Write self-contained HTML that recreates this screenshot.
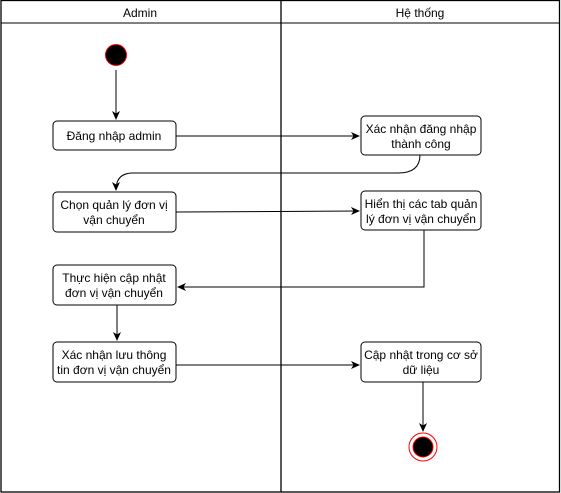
<!DOCTYPE html><html><head><style>body{margin:0;background:#fff}svg{display:block}text{font-family:"Liberation Sans",sans-serif;font-size:12px;fill:#000}</style></head><body>
<svg width="561" height="493" xmlns="http://www.w3.org/2000/svg">
<defs><marker id="a" markerWidth="10" markerHeight="10" refX="8" refY="5" orient="auto" markerUnits="userSpaceOnUse"><path d="M0,1 L9,5 L0,9 L2.5,5 Z" fill="#000"/></marker></defs>
<rect x="1" y="0.5" width="558.5" height="491.5" fill="#fff" stroke="#000" stroke-width="1.3"/>
<line x1="1" y1="23" x2="560" y2="23" stroke="#000"/>
<line x1="281" y1="0" x2="281" y2="492" stroke="#000" stroke-width="1.3"/>
<text x="140" y="17" text-anchor="middle">Admin</text>
<text x="420" y="17" text-anchor="middle">Hệ thống</text>
<circle cx="116" cy="55" r="10.5" fill="#000" stroke="#f00"/>
<g fill="#fff" stroke="#000">
<rect x="53" y="121" width="123" height="29" rx="4"/>
<rect x="53" y="192" width="123" height="40" rx="4"/>
<rect x="53" y="265" width="123" height="40" rx="4"/>
<rect x="53" y="342" width="123" height="40" rx="4"/>
<rect x="361" y="116" width="120" height="39" rx="4"/>
<rect x="361" y="191" width="120" height="39" rx="4"/>
<rect x="361" y="342" width="120" height="40" rx="4"/>
</g>
<g fill="none" stroke="#000" marker-end="url(#a)">
<line x1="116" y1="70" x2="116" y2="119"/>
<line x1="176" y1="136" x2="359" y2="136"/>
<path d="M420,155 Q420,173 398,173 L133,173 Q116,173 116,190"/>
<line x1="176" y1="212" x2="359" y2="211"/>
<polyline points="424,230 424,287 178,287"/>
<line x1="117" y1="305" x2="117" y2="340"/>
<line x1="176" y1="365" x2="359" y2="365"/>
<line x1="423" y1="382" x2="423" y2="431"/>
</g>
<circle cx="423" cy="447" r="14" fill="#fff" stroke="#f00"/>
<circle cx="423" cy="447" r="10" fill="#000" stroke="#f00"/>
<g text-anchor="middle">
<text x="114" y="140">Đăng nhập admin</text>
<text x="114" y="209">Chọn quản lý đơn vị</text><text x="114" y="224">vận chuyển</text>
<text x="114" y="282">Thực hiện cập nhật</text><text x="114" y="297">đơn vị vận chuyển</text>
<text x="114" y="359">Xác nhận lưu thông</text><text x="114" y="374">tin đơn vị vận chuyển</text>
<text x="421" y="133">Xác nhận đăng nhập</text><text x="421" y="148">thành công</text>
<text x="421" y="208">Hiển thị các tab quản</text><text x="421" y="223">lý đơn vị vận chuyển</text>
<text x="421" y="359">Cập nhật trong cơ sở</text><text x="421" y="374">dữ liệu</text>
</g>
</svg></body></html>
